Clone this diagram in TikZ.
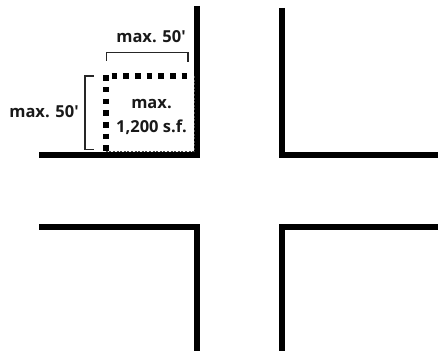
\documentclass[tikz,border=0pt]{standalone}
\usepackage{fontspec}
\setmainfont{Open Sans}
\tikzset{
  road/.style={line width=5.8pt, line cap=butt, miter limit=10},
  lotdots/.style={line width=5.8pt, dash pattern=on 5.6pt off 6.1pt},
  lotedge/.style={line width=0.8pt, black!70, dash pattern=on 2pt off 1.6pt},
  bracketline/.style={line width=1.1pt, black!85},
  lab/.style={font=\bfseries\fontsize{16.5}{24}\selectfont, align=center, inner sep=0pt, text=black!90, anchor=base}
}
\begin{document}
\begin{tikzpicture}[x=1pt,y=-1pt]
\useasboundingbox (0,0) rectangle (438,355);
\draw[road] (196.7,6) -- (196.7,155.2) -- (39,155.2);
\draw[road] (282,8) -- (282,155.2) -- (438,155.2);
\draw[road] (39,227.2) -- (196.7,227.2) -- (196.7,351);
\draw[road] (438,227.2) -- (282,227.2) -- (282,351);
\draw[lotedge] (105.7,151.8) -- (194,151.8) -- (194,76);
\draw[lotdots] (105.7,75.2) -- (105.7,155);
\draw[lotdots] (111.5,76) -- (191,76);
\draw[bracketline] (106.5,61) -- (106.5,52.5) -- (188,52.5) -- (188,62);
\draw[bracketline] (94,76) -- (85,76) -- (85,149.5) -- (93.5,149.5);
\node[lab] (top) at (151,43) {max. 50\textquotesingle};
\node[lab] (side) at (44,118) {max. 50\textquotesingle};
\node[lab] (areaa) at (151.5,109) {max.};
\node[lab] (areab) at (151.5,132.5) {1,200 s.f.};
\end{tikzpicture}
\end{document}
